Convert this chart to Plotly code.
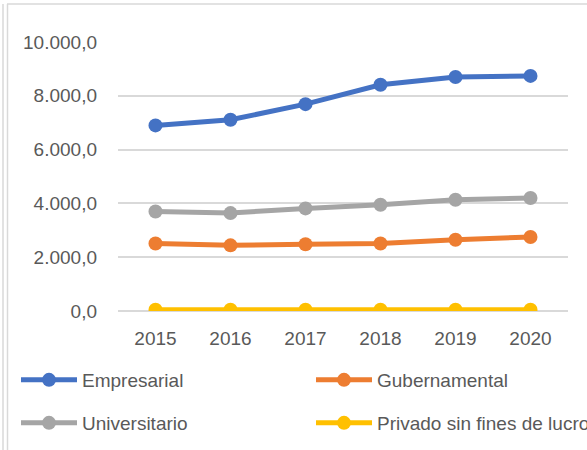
import plotly.graph_objects as go

years = ["2015", "2016", "2017", "2018", "2019", "2020"]
empresarial = [6900, 7110, 7690, 8410, 8700, 8740]
gubernamental = [2510, 2440, 2480, 2510, 2650, 2750]
universitario = [3700, 3640, 3815, 3950, 4135, 4200]
privado = [50, 50, 50, 50, 50, 50]

series_names = ["Empresarial", "Gubernamental", "Universitario", "Privado sin fines de lucro"]
series_vals = [empresarial, gubernamental, universitario, privado]
colors = ["#4472C4", "#ED7D31", "#A5A5A5", "#FFC000"]
legend_ids = ["legend", "legend2", "legend3", "legend4"]

y_tickvals = [0, 2000, 4000, 6000, 8000, 10000]
y_ticktext = ["0,0", "2.000,0", "4.000,0", "6.000,0", "8.000,0", "10.000,0"]

W, H = 587, 450
L, R, T, B = 118, 19, 42, 139

fig = go.Figure()
for name, vals, col, lg in zip(series_names, series_vals, colors, legend_ids):
    fig.add_trace(go.Scatter(
        x=years, y=vals, name=name, mode="lines+markers",
        line=dict(color=col, width=5),
        marker=dict(color=col, size=14),
        legend=lg,
    ))

font = dict(family="Liberation Sans, Arial, sans-serif", size=19, color="#595959")

def px_to_paper_x(px):
    return (px - L) / (W - L - R)

def px_to_paper_y(py):
    return 1 - (py - T) / (H - T - B)

shapes = [
    dict(type="line", xref="paper", yref="paper",
         x0=px_to_paper_x(3), x1=px_to_paper_x(3), y0=px_to_paper_y(4), y1=px_to_paper_y(452),
         line=dict(color="#D9D9D9", width=1.5)),
    dict(type="line", xref="paper", yref="paper",
         x0=px_to_paper_x(7.5), x1=px_to_paper_x(7.5), y0=px_to_paper_y(4), y1=px_to_paper_y(452),
         line=dict(color="#D9D9D9", width=1.5)),
    dict(type="line", xref="paper", yref="paper",
         x0=px_to_paper_x(7), x1=px_to_paper_x(590), y0=px_to_paper_y(4), y1=px_to_paper_y(4),
         line=dict(color="#D9D9D9", width=1.5)),
]

def legend_at(xpx, ypx):
    return dict(orientation="h", xref="container", yref="container",
                x=xpx / W, y=1 - ypx / H, xanchor="left", yanchor="middle",
                bgcolor="rgba(0,0,0,0)", borderwidth=0, font=font, itemwidth=56)

fig.update_layout(
    width=W, height=H,
    margin=dict(l=L, r=R, t=T, b=B, autoexpand=False),
    paper_bgcolor="white", plot_bgcolor="white",
    font=font,
    showlegend=True,
    legend=legend_at(16, 380),
    legend2=legend_at(311, 380),
    legend3=legend_at(16, 423),
    legend4=legend_at(311, 423),
    xaxis=dict(type="category", range=[-0.5, 5.5], showgrid=False, showline=False,
               zeroline=False, ticks="", ticklabelstandoff=14, tickfont=font,
               automargin=False),
    yaxis=dict(range=[0, 10000], tickvals=y_tickvals, ticktext=y_ticktext,
               showgrid=True, gridcolor="#D9D9D9", gridwidth=1.5,
               zeroline=True, zerolinecolor="#D9D9D9", zerolinewidth=1.5,
               showline=False, ticks="", ticklabelstandoff=20, tickfont=font,
               automargin=False),
    shapes=shapes,
)

fig.write_html(
    "out.html",
    config={"displayModeBar": False},
    post_script="document.body.style.margin='0';document.body.style.overflow='hidden';",
)
